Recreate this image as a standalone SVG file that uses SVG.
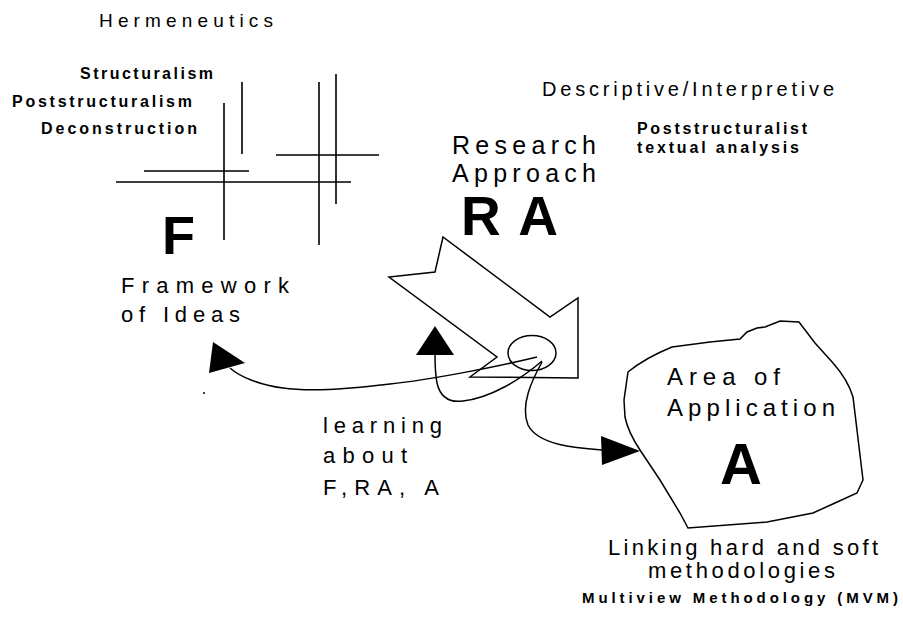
<svg xmlns="http://www.w3.org/2000/svg" width="903" height="620" viewBox="0 0 903 620">
<style>
text{font-family:"Liberation Sans",Arial,sans-serif;fill:#000}
.t{font-size:22px}
.s{font-size:16px;font-weight:bold}
.big{font-weight:bold}
.ln{stroke:#000;stroke-width:1.6;fill:none}
.sh{stroke:#000;stroke-width:1.5;fill:#fff}
.cv{stroke:#000;stroke-width:1.5;fill:none}
.hd{fill:#000;stroke:none}
</style>
<rect width="903" height="620" fill="#fff"/>
<g id="framework">
<text x="99" y="27" style="font-size:19px" textLength="174" lengthAdjust="spacing">Hermeneutics</text>
<text class="s" x="80" y="79" textLength="133" lengthAdjust="spacing">Structuralism</text>
<text class="s" x="12" y="107" textLength="180" lengthAdjust="spacing">Poststructuralism</text>
<text class="s" x="41" y="134" textLength="156" lengthAdjust="spacing">Deconstruction</text>
<path class="ln" d="M224,103V240M242,82V154M319,82V245M336,74V204M144,171H249M116,182H351M276,155H379"/>
<text class="big" x="162" y="254" style="font-size:54px">F</text>
<text class="t" x="121" y="293" textLength="168" lengthAdjust="spacing">Framework</text>
<text class="t" x="121" y="322" textLength="119" lengthAdjust="spacing">of Ideas</text>
</g>
<g id="research-approach">
<text x="542" y="96" style="font-size:20px" textLength="292" lengthAdjust="spacing">Descriptive/Interpretive</text>
<text class="s" x="637" y="134" textLength="170" lengthAdjust="spacing">Poststructuralist</text>
<text class="s" x="637" y="153" textLength="162" lengthAdjust="spacing">textual analysis</text>
<text x="452" y="154" style="font-size:25px" textLength="144" lengthAdjust="spacing">Research</text>
<text x="452" y="182" style="font-size:25px" textLength="144" lengthAdjust="spacing">Approach</text>
<text class="big" x="461" y="235" style="font-size:55px" textLength="97" lengthAdjust="spacing">RA</text>
<polygon class="sh" points="443,237 435,272 389,277 497,357 470,377 578,378 578,298 550,317"/>
<ellipse class="cv" cx="532" cy="353" rx="24" ry="17.5"/>
</g>
<g id="area-of-application">
<path class="sh" d="M628,372 Q645,358 672,347 L710,342 L740,339 L747,332 L757,328 L765,327 L780,321 L799,322 L815,343 L833,363 Q848,380 853,397 Q858,440 863,480 L857,493 L835,503 L813,513 L767,522 L688,528 L680,513 L660,480 L640,450 Q628,432 625,417 L624,400 Z"/>
<text x="667" y="385" style="font-size:24px" textLength="113" lengthAdjust="spacing">Area of</text>
<text x="667" y="416" style="font-size:24px" textLength="168" lengthAdjust="spacing">Application</text>
<text class="big" x="720" y="484" style="font-size:58px">A</text>
<text class="t" x="608" y="555" textLength="270" lengthAdjust="spacing">Linking hard and soft</text>
<text class="t" x="648" y="578" textLength="187" lengthAdjust="spacing">methodologies</text>
<text class="s" x="582" y="603" style="font-size:15px" textLength="316" lengthAdjust="spacing">Multiview Methodology (MVM)</text>
</g>
<g id="learning">
<text class="t" x="323" y="433" textLength="119" lengthAdjust="spacing">learning</text>
<text class="t" x="323" y="463" textLength="84" lengthAdjust="spacing">about</text>
<text class="t" x="323" y="495" textLength="116" lengthAdjust="spacing">F,RA, A</text>
</g>
<g id="connectors">
<path class="cv" d="M537,357 C500,366 430,380 390,384 C350,389 310,392 283,388 C260,385 240,377 230,368"/>
<polygon class="hd" points="213,342 209,373 245,363"/>
<path class="cv" d="M542,361 C520,380 490,398 463,401 C448,403 440,396 437,383 C435,372 435,362 435,355"/>
<polygon class="hd" points="435,326 416,355 454,355"/>
<path class="cv" d="M542,362 C532,380 520,405 528,425 C538,445 575,448 602,450"/>
<polygon class="hd" points="601,436 602,465 640,451"/>
<circle cx="204" cy="393" r="1" fill="#000"/>
</g>
</svg>
